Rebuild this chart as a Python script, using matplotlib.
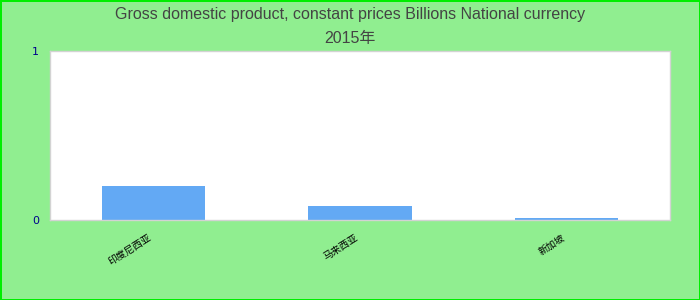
import matplotlib
matplotlib.use("Agg")
import matplotlib.pyplot as plt

# Chart data
categories = ["印度尼西亚", "马来西亚", "新加坡"]
values = [0.20, 0.083, 0.012]
y_ticks = [0, 1]
title_text = "Gross domestic product, constant prices Billions National currency\n2015年"

plt.rcParams['font.family'] = ['Liberation Sans', 'Noto Sans CJK SC', 'DejaVu Sans']

fig = plt.figure(figsize=(7, 3), dpi=100)
fig.patch.set_facecolor("#90ee90")
fig.patch.set_edgecolor("#00ee00")
fig.patch.set_linewidth(2)

ax = fig.add_axes([50 / 700, 80 / 300, 620 / 700, 169 / 300])
ax.set_facecolor("white")

x = list(range(len(categories)))
ax.bar(x, values, width=0.5, color="#63a9f4")

ax.set_xlim(-0.5, len(categories) - 0.5)
ax.set_ylim(0, 1)
ax.set_yticks(y_ticks)
ax.set_yticklabels([str(t) for t in y_ticks], color="#00008b", fontsize=8,
                   family="DejaVu Sans")
ax.set_xticks(x)
ax.set_xticklabels(categories, rotation=32, ha="right", fontsize=7,
                   family=["Noto Sans CJK SC", "DejaVu Sans"])
ax.tick_params(axis="y", length=0, pad=8)
ax.tick_params(axis="x", length=0, pad=9)

for s in ax.spines.values():
    s.set_color("#d3d3d3")
    s.set_linewidth(1)

fig.text(0.5, 0.975, title_text, ha="center", va="top", fontsize=11.5,
         color="#444444", linespacing=1.75)

fig.savefig("out.png", dpi=100, facecolor=fig.get_facecolor(),
            edgecolor=fig.get_edgecolor())
